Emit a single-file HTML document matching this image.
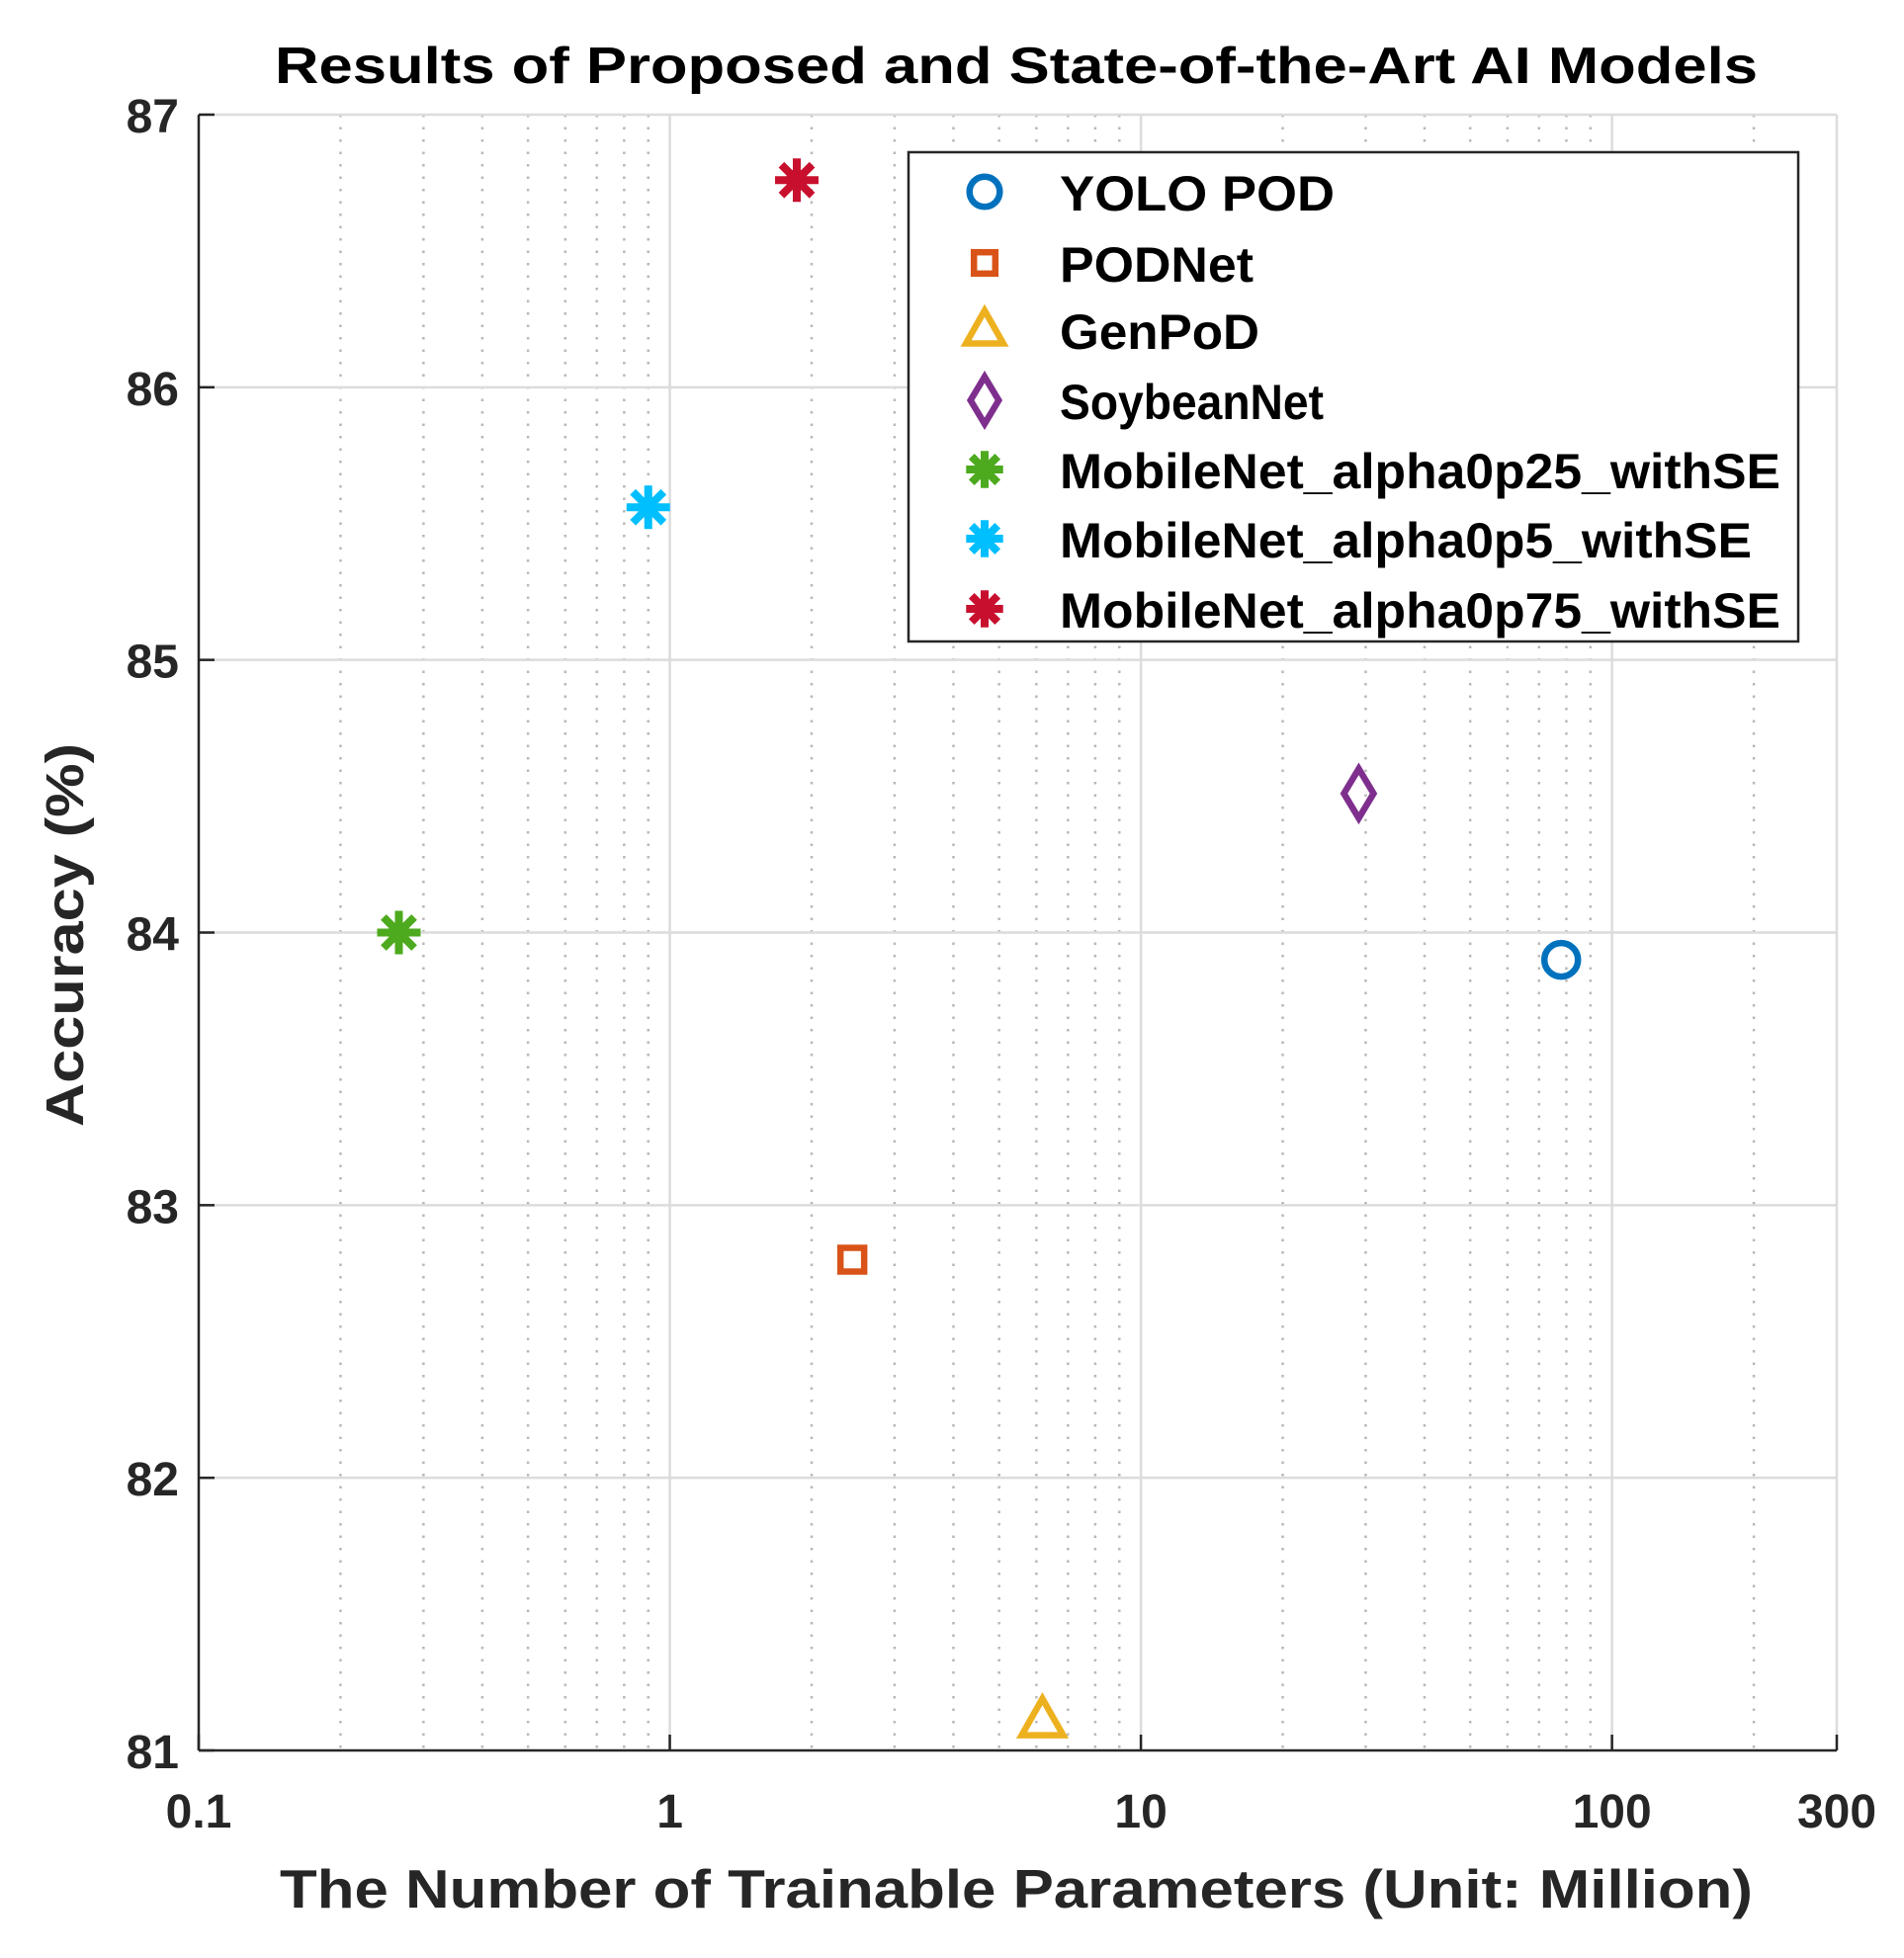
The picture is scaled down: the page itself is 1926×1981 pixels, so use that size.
<!DOCTYPE html>
<html><head><meta charset="utf-8"><style>
html,body{margin:0;padding:0;background:#fff;}
svg{display:block;font-family:"Liberation Sans",Arial,sans-serif;}
</style></head><body>
<svg id="chart" width="1926" height="1981" viewBox="0 0 1926 1981" xmlns="http://www.w3.org/2000/svg">
<rect width="1926" height="1981" fill="#fff"/>
<g id="grid"></g>
<g id="axes"></g>
<g id="marks"></g>
<text x="1028" y="84" text-anchor="middle" font-size="52" font-weight="bold" textLength="1500" lengthAdjust="spacingAndGlyphs">Results of Proposed and State-of-the-Art AI Models</text>
<text x="1028" y="1930" text-anchor="middle" font-size="55" font-weight="bold" fill="#262626" textLength="1490" lengthAdjust="spacingAndGlyphs">The Number of Trainable Parameters (Unit: Million)</text>
<text transform="translate(84,946) rotate(-90)" text-anchor="middle" font-size="54" font-weight="bold" fill="#262626" textLength="388" lengthAdjust="spacingAndGlyphs">Accuracy (%)</text>
<g id="legend"></g>
</svg>
<script>
const names = ["YOLO POD","PODNet","GenPoD","SoybeanNet","MobileNet_alpha0p25_withSE","MobileNet_alpha0p5_withSE","MobileNet_alpha0p75_withSE"];
const paramsM = [78, 2.44, 6.18, 29, 0.266, 0.90, 1.86];
const accuracy = [83.9, 82.8, 81.11, 84.51, 84.0, 85.56, 86.76];
const markers = ["circle","square","triangle","diamond","asterisk","asterisk","asterisk"];
const colors = ["#0072BD","#D95319","#EDB120","#7E2F8E","#4DAA1E","#00BFFF","#C8102E"];
const xTicks = [0.1, 1, 10, 100, 300];
const xTickLabels = ["0.1","1","10","100","300"];
const yTicks = [81, 82, 83, 84, 85, 86, 87];

const NS="http://www.w3.org/2000/svg";
const L=201,R=1858,T=116,B=1771;
const xMin=0.1,xMax=300,yMin=81,yMax=87;
function xs(v){return L+(Math.log10(v)-Math.log10(xMin))/(Math.log10(xMax)-Math.log10(xMin))*(R-L);}
function ys(v){return B-(v-yMin)/(yMax-yMin)*(B-T);}
function mk(tag,attrs,parent){const e=document.createElementNS(NS,tag);for(const k in attrs)e.setAttribute(k,attrs[k]);parent.appendChild(e);return e;}
const grid=document.getElementById('grid'),axes=document.getElementById('axes'),marks=document.getElementById('marks'),legend=document.getElementById('legend');

for(let d=0.1; d<300; d*=10){
  for(let m=2;m<=9;m++){const v=d*m; if(v>=xMax) break;
    const g=mk('line',{x1:xs(v),x2:xs(v),y1:T,y2:B,stroke:'#b8b8b8','stroke-width':2.5,'stroke-dasharray':'2.5 10'},grid);
    
    
  }
}
[1,10,100].forEach(v=>{
  const g=mk('line',{x1:xs(v),x2:xs(v),y1:T,y2:B,stroke:'#dcdcdc','stroke-width':2.5},grid);
  
  
});
yTicks.forEach(v=>{
  if(v===yMin||v===yMax) return;
  const g=mk('line',{x1:L,x2:R,y1:ys(v),y2:ys(v),stroke:'#dcdcdc','stroke-width':2.5},grid);
  
  
});
mk('line',{x1:L,x2:R,y1:T,y2:T,stroke:'#dcdcdc','stroke-width':2.5},grid);
mk('line',{x1:R,x2:R,y1:T,y2:B,stroke:'#dcdcdc','stroke-width':2.5},grid);

const xa=mk('line',{x1:L,x2:R,y1:B,y2:B,stroke:'#262626','stroke-width':2.5},axes);


const ya=mk('line',{x1:L,x2:L,y1:T,y2:B,stroke:'#262626','stroke-width':2.5},axes);


xTicks.forEach((v,i)=>{
  mk('line',{x1:xs(v),x2:xs(v),y1:B,y2:B-16,stroke:'#262626','stroke-width':2.5},axes);
  const t=mk('text',{x:xs(v),y:B+78,'text-anchor':'middle','font-size':48,'font-weight':'bold',fill:'#262626'},axes);
  t.textContent=xTickLabels[i];
  
  
});
yTicks.forEach(v=>{
  mk('line',{x1:L,x2:L+16,y1:ys(v),y2:ys(v),stroke:'#262626','stroke-width':2.5},axes);
  const t=mk('text',{x:L-20,y:ys(v)+18,'text-anchor':'end','font-size':48,'font-weight':'bold',fill:'#262626'},axes);
  t.textContent=String(v);
  
  
});

function drawMarker(type,cx,cy,color,parent,s){
  const g=mk('g',{},parent);
  const sw=6.5;
  if(type==='circle') mk('circle',{cx,cy,r:17*s,fill:'none',stroke:color,'stroke-width':sw},g);
  else if(type==='square') mk('rect',{x:cx-12*s,y:cy-12*s,width:24*s,height:24*s,fill:'none',stroke:color,'stroke-width':sw},g);
  else if(type==='triangle') mk('polygon',{points:`${cx},${cy-22*s} ${cx-21*s},${cy+15*s} ${cx+21*s},${cy+15*s}`,fill:'none',stroke:color,'stroke-width':sw},g);
  else if(type==='diamond') mk('polygon',{points:`${cx},${cy-25*s} ${cx+15*s},${cy} ${cx},${cy+25*s} ${cx-15*s},${cy}`,fill:'none',stroke:color,'stroke-width':sw},g);
  else { for(let k=0;k<4;k++){const a=k*Math.PI/4, r=22*s;
    mk('line',{x1:cx-r*Math.cos(a),y1:cy-r*Math.sin(a),x2:cx+r*Math.cos(a),y2:cy+r*Math.sin(a),stroke:color,'stroke-width':8},g);}
    mk('circle',{cx,cy,r:11*s,fill:color},g);
  }
  return g;
}
names.forEach((n,i)=>{
  const g=drawMarker(markers[i],xs(paramsM[i]),ys(accuracy[i]),colors[i],marks,1);
  
  
});

const lb=mk('rect',{x:919,y:154,width:900,height:495,fill:'#fff',stroke:'#262626','stroke-width':2.5},legend);


const rowY=[194,266,334,405,475,545,616];
const textW=[278,196,202,267,729,700,729];
names.forEach((n,i)=>{
  const m=drawMarker(markers[i],996,rowY[i],colors[i],legend,markers[i]==='asterisk'?0.85:markers[i]==='diamond'?0.95:0.9);
  
  
  const t=mk('text',{x:1072,y:rowY[i]+19,'font-size':50,'font-weight':'bold',fill:'#000',textLength:textW[i],lengthAdjust:'spacingAndGlyphs'},legend);
  t.textContent=n;
  
  
});
</script>
</body></html>
